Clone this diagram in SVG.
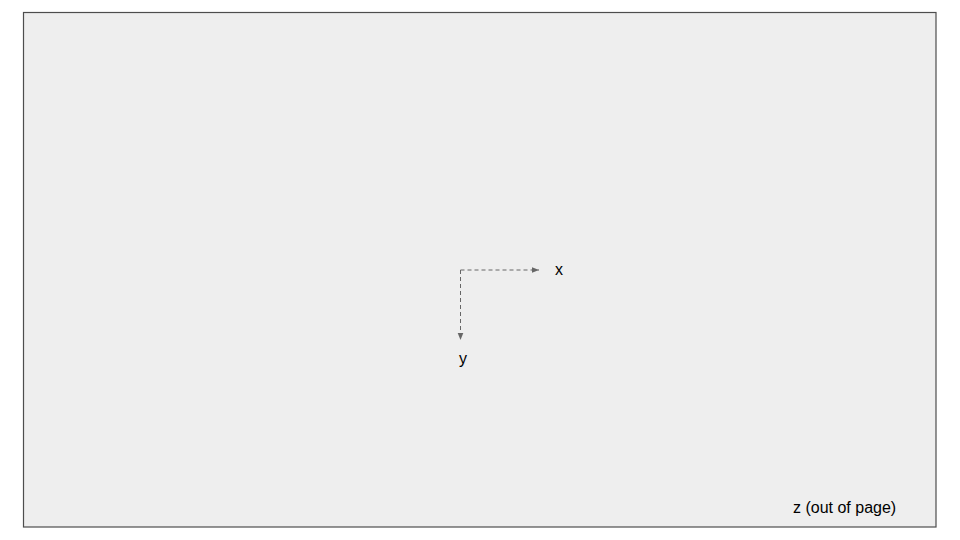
<svg xmlns="http://www.w3.org/2000/svg" width="960" height="540" viewBox="0 0 960 540">
<defs>
<style>
.frame{fill:#eeeeee;stroke:#4d4d4d;stroke-width:1.2}
.axis{fill:none;stroke:#666666;stroke-width:1;stroke-dasharray:4 3}
.lbl{font-family:"Liberation Sans",Arial,sans-serif;font-size:16px;fill:#000000}
</style>
<marker id="ah" viewBox="0 0 10 10" refX="10" refY="5" markerWidth="7" markerHeight="7" markerUnits="userSpaceOnUse" orient="auto">
<path d="M0,1 L10,5 L0,9 Z" fill="#666666"/>
</marker>
</defs>
<rect width="960" height="540" fill="#ffffff"/>
<rect id="frame" class="frame" x="23.5" y="12.5" width="912.5" height="514.5"/>
<g id="connectors">
<path class="axis" d="M460.5,270 L539,270" marker-end="url(#ah)"/>
<path class="axis" d="M460.5,270 L460.5,340" marker-end="url(#ah)"/>
</g>
<g id="label-x"><text class="lbl" x="555" y="275">x</text></g>
<g id="label-y"><text class="lbl" x="459" y="364">y</text></g>
<g id="label-z"><text class="lbl" x="793" y="513">z (out of page)</text></g>
</svg>
